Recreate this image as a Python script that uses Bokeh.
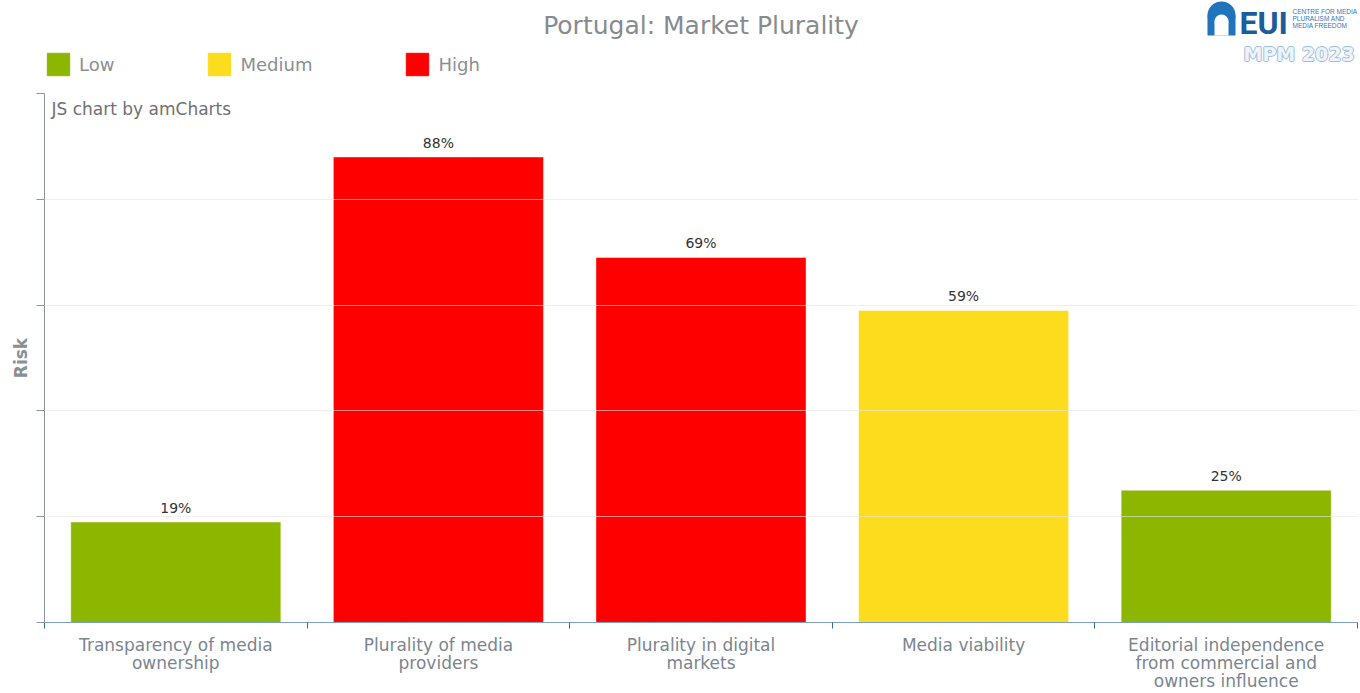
from bokeh.plotting import figure
from bokeh.layouts import column
from bokeh.models import (ColumnDataSource, Range1d, FixedTicker, Legend, LegendItem,
                          Label, CustomJSTickFormatter)
from bokeh.core.properties import value
from bokeh.embed import file_html
from bokeh.resources import INLINE

# ---- data ----
title_text = "Portugal: Market Plurality"
categories = [
    "Transparency of media\nownership",
    "Plurality of media\nproviders",
    "Plurality in digital\nmarkets",
    "Media viability",
    "Editorial independence\nfrom commercial and\nowners influence",
]
risk_values = [19, 88, 69, 59, 25]
risk_levels = ["Low", "High", "High", "Medium", "Low"]
level_names = ["Low", "Medium", "High"]
level_colors = {"Low": "#8db600", "Medium": "#fcdc1c", "High": "#ff0000"}
y_ticks = [0, 20, 40, 60, 80, 100]

FONT = "DejaVu Sans"
W, H, HEAD = 1360, 693, 93
FL, FR = 44, 1357

# ---------------- header (title, legend, logo) ----------------
# the column layout aligns this frame with the chart frame (x from FL to FR)
head = figure(width=W, height=HEAD, output_backend="svg", toolbar_location=None, tools="",
              x_range=Range1d(FL, FR), y_range=Range1d(HEAD, 0), min_border=0,
              min_border_left=FL, min_border_right=W - FR,
              x_axis_location=None, y_axis_location=None)
head.grid.grid_line_color = None
head.outline_line_color = None
head.background_fill_color = "white"
head.border_fill_color = "white"

head.text(x=[(FL + FR) / 2], y=[25], text=[title_text], text_align="center",
          text_baseline="middle", text_font=value(FONT), text_font_size="25px",
          text_color="#868b90")

# legend swatches: renderers with a single point outside the visible range
leg_renderers = [head.rect(x=[-500], y=[-500], width=1, height=1, fill_color=level_colors[n],
                           line_color=level_colors[n]) for n in level_names]
legend = Legend(items=[LegendItem(label=n, renderers=[r]) for n, r in zip(level_names, leg_renderers)],
                orientation="horizontal", location=(0, HEAD - 78),
                glyph_width=28, glyph_height=28, label_standoff=7, spacing=91,
                padding=0, margin=0, border_line_color=None, background_fill_alpha=0,
                label_text_font=FONT, label_text_font_size="18px", label_text_color="#8a8f94",
                label_height=28)
head.add_layout(legend, "center")

# EUI logo (approximation)
head.ellipse(x=[1221], y=[15], width=28, height=28, fill_color="#1f74bb", line_color=None)
head.quad(left=[1207], right=[1235], top=[15], bottom=[35], fill_color="#1f74bb", line_color=None)
head.ellipse(x=[1221], y=[21], width=14, height=14, fill_color="white", line_color=None)
head.quad(left=[1214], right=[1228], top=[21], bottom=[35], fill_color="white", line_color=None)
head.text(x=[1239], y=[3], text=["EUI"], text_baseline="top",
          text_font=value("Roboto"), text_font_size="32px",
          text_font_style="bold", text_color="#1d5c9c")
head.text(x=[1292] * 3, y=[7, 14, 21], text=["CENTRE FOR MEDIA", "PLURALISM AND", "MEDIA FREEDOM"],
          text_baseline="top", text_font=value("Liberation Sans"), text_font_size="6.5px",
          text_color="#2f78bd")
for dx, dy in [(-1, 0), (1, 0), (0, -1), (0, 1)]:
    head.text(x=[1243 + dx], y=[42 + dy], text=["MPM 2023"], text_baseline="top",
              text_font=value(FONT), text_font_size="19px", text_font_style="bold",
              text_color="#9cbddc")
head.text(x=[1243], y=[42], text=["MPM 2023"], text_baseline="top",
          text_font=value(FONT), text_font_size="19px", text_font_style="bold",
          text_color="#eef4fa")

# ---------------- main chart ----------------
x_pos = [i + 0.5 for i in range(len(categories))]
src = ColumnDataSource(dict(
    x=x_pos,
    top=risk_values,
    color=[level_colors[l] for l in risk_levels],
    label=[f"{v}%" for v in risk_values],
))

p = figure(width=W, height=H - HEAD, output_backend="svg", toolbar_location=None, tools="",
           x_range=Range1d(0, len(categories)), y_range=Range1d(0, 100),
           min_border_left=FL, min_border_right=W - FR, min_border_top=0,
           min_border_bottom=70)
p.outline_line_color = None
p.background_fill_color = "white"
p.border_fill_color = "white"

bars = p.vbar(x="x", top="top", width=0.8, bottom=0, source=src,
              fill_color="color", line_color="white", line_alpha=0.45, line_width=1)

p.text(x="x", y="top", text="label", source=src, y_offset=-6,
       text_align="center", text_baseline="bottom",
       text_font=value(FONT), text_font_size="14px", text_color="#333333")

# x axis: labels at centres, small ticks at boundaries
p.xaxis.ticker = FixedTicker(ticks=x_pos, minor_ticks=list(range(len(categories) + 1)))
p.xaxis.major_label_overrides = {x: c for x, c in zip(x_pos, categories)}
p.xaxis.major_tick_line_color = None
p.xaxis.major_tick_out = 0
p.xaxis.major_tick_in = 0
p.xaxis.minor_tick_line_color = "#2f6aa3"
p.xaxis.minor_tick_out = 6
p.xaxis.minor_tick_in = 0
p.xaxis.axis_line_color = "#7ba0c2"
p.xaxis.axis_label_standoff = 0
p.xaxis.major_label_standoff = 6
p.xaxis.major_label_text_font = FONT
p.xaxis.major_label_text_font_size = "17px"
p.xaxis.major_label_text_line_height = 0.91
p.xaxis.major_label_text_color = "#7a858f"
p.xaxis.major_label_orientation = "horizontal"
p.xgrid.grid_line_color = None

# y axis: ticks, no labels
p.yaxis.ticker = FixedTicker(ticks=y_ticks)
p.yaxis.formatter = CustomJSTickFormatter(code="return ''")
p.yaxis.minor_tick_line_color = None
p.yaxis.major_tick_out = 8
p.yaxis.major_tick_in = 0
p.yaxis.major_tick_line_color = "#8c959e"
p.yaxis.axis_line_color = "#8c959e"
p.yaxis.major_label_standoff = 0
p.yaxis.axis_label = "Risk"
p.yaxis.axis_label_text_font = FONT
p.yaxis.axis_label_text_font_size = "17px"
p.yaxis.axis_label_text_font_style = "bold"
p.yaxis.axis_label_text_color = "#8a8f94"
p.yaxis.axis_label_standoff = 6
p.ygrid.grid_line_color = "#e6e6e6"
p.ygrid.grid_line_alpha = 0.6
p.ygrid.level = "overlay"

# amCharts credit (inside the frame, top-left)
p.add_layout(Label(x=7, y=100, x_units="screen", y_units="data", y_offset=-15,
                   text="JS chart by amCharts",
                   text_font=FONT, text_font_size="17px", text_color="#707070",
                   text_baseline="middle"))

layout = column(head, p, spacing=0)
open("out.html", "w").write(file_html(layout, INLINE))
